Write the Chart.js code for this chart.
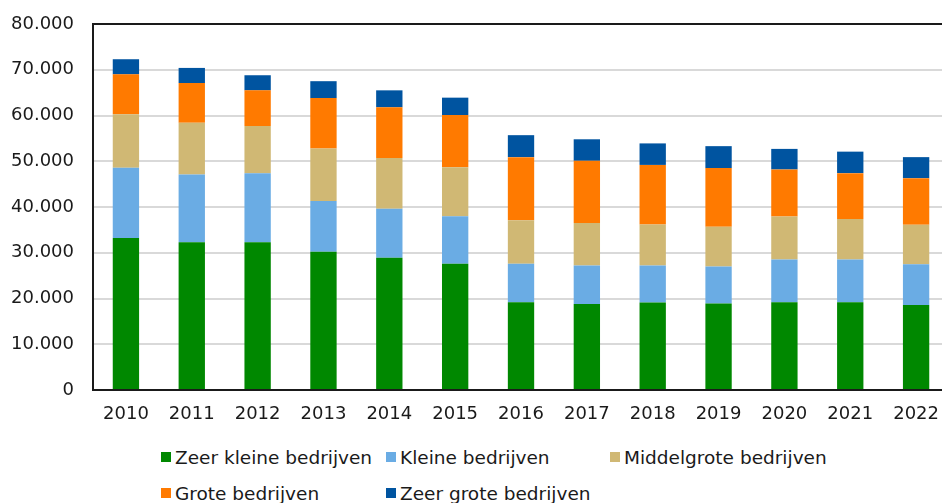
<!DOCTYPE html>
<html>
<head>
<meta charset="utf-8">
<script src="https://cdn.jsdelivr.net/npm/chart.js@4/dist/chart.umd.min.js"></script>
<style>
  html, body { margin: 0; padding: 0; background: #fff; overflow: hidden; }
  #wrap { position: relative; width: 953px; height: 503px; }
  #chartBox { position: absolute; left: 0; top: 0; width: 953px; height: 430px; }
  .leg { position: absolute; font-family: "DejaVu Sans", Verdana, sans-serif; font-size: 18.5px; color: #1a1a1a; white-space: nowrap; line-height: 22px; }
  .leg span.box { position: absolute; left: 0; top: 5px; width: 10px; height: 10px; }
  .leg span.txt { position: absolute; left: 14px; top: 0; }
</style>
</head>
<body>
<div id="wrap">
  <div id="chartBox"><canvas id="myChart"></canvas></div>
  <div id="legend"></div>
</div>
<script>
const years = ['2010', '2011', '2012', '2013', '2014', '2015', '2016', '2017', '2018', '2019', '2020', '2021', '2022']

const zeerKlein = [33200, 32300, 32300, 30200, 28900, 27600, 19200, 18800, 19100, 18900, 19200, 19200, 18600]
const klein = [15400, 14800, 15100, 11100, 10700, 10400, 8400, 8400, 8100, 8100, 9300, 9300, 8900]
const middelgroot = [11700, 11300, 10300, 11500, 11100, 10700, 9500, 9300, 9000, 8700, 9400, 8900, 8600]
const groot = [8700, 8700, 7800, 11000, 11100, 11400, 13800, 13600, 13000, 12800, 10300, 10000, 10200]
const zeerGroot = [3300, 3300, 3300, 3700, 3700, 3800, 4800, 4700, 4700, 4800, 4500, 4700, 4600]

const seriesNames = ['Zeer kleine bedrijven', 'Kleine bedrijven', 'Middelgrote bedrijven', 'Grote bedrijven', 'Zeer grote bedrijven']
const seriesColors = ['#008800', '#6aace4', '#d0b874', '#ff7a00', '#0054a0']
const seriesData = [zeerKlein, klein, middelgroot, groot, zeerGroot]

const fmt = v => String(v).replace(/\B(?=(\d{3})+(?!\d))/g, '.')

const ctx = document.getElementById('myChart')

new Chart(ctx, {
  type: 'bar',
  data: {
    labels: years,
    datasets: seriesNames.map((name, i) => ({
      label: name,
      data: seriesData[i],
      backgroundColor: seriesColors[i],
      borderWidth: 0,
      barPercentage: 0.4,
      categoryPercentage: 1
    }))
  },
  options: {
    responsive: true,
    maintainAspectRatio: false,
    animation: false,
    layout: { padding: { top: 24, right: 0, bottom: 0, left: 0 } },
    plugins: {
      legend: { display: false },
      tooltip: { enabled: false }
    },
    scales: {
      x: {
        stacked: true,
        grid: { display: false, drawTicks: false },
        border: { display: true, color: '#1a1a1a', width: 2 },
        ticks: { color: '#1a1a1a', padding: 14, font: { family: 'DejaVu Sans', size: 18 } },
        afterFit: s => { s.height = 40 }
      },
      y: {
        stacked: true,
        min: 0,
        max: 80000,
        grid: {
          drawTicks: false,
          lineWidth: 2,
          color: c => c.tick.value === 80000 ? '#1a1a1a' : '#d9d9d9'
        },
        border: { display: true, color: '#1a1a1a', width: 2 },
        ticks: {
          stepSize: 10000,
          padding: 19,
          color: '#1a1a1a',
          font: { family: 'DejaVu Sans', size: 18, lineHeight: 0.5 },
          callback: v => fmt(v)
        },
        afterFit: s => { s.width = 93 }
      }
    }
  }
})

// legend in columns, the way the source chart lays it out
const legPos = [[161, 447], [386, 447], [610, 447], [161, 483], [386, 483]]
const legend = document.getElementById('legend')
seriesNames.forEach((name, i) => {
  const d = document.createElement('div')
  d.className = 'leg'
  d.style.left = legPos[i][0] + 'px'
  d.style.top = legPos[i][1] + 'px'
  d.innerHTML = '<span class="box" style="background:' + seriesColors[i] + '"></span><span class="txt">' + name + '</span>'
  legend.appendChild(d)
})
</script>
</body>
</html>
